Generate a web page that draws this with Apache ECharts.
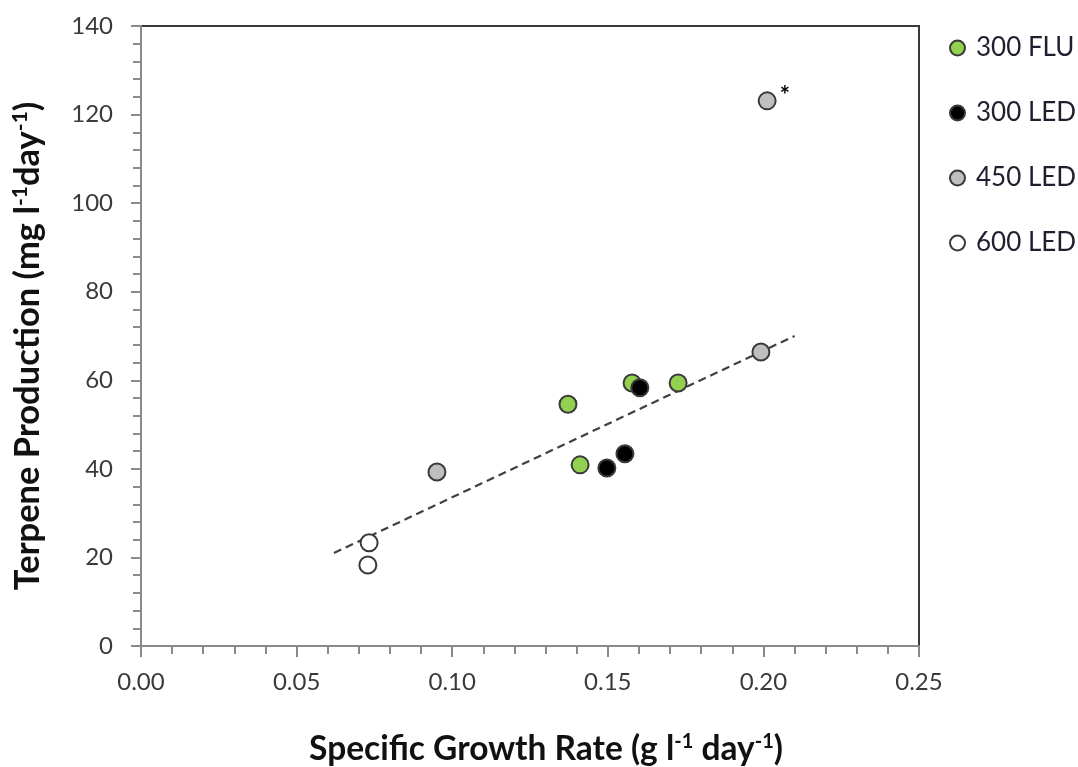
<!DOCTYPE html>
<html><head><meta charset="utf-8">
<script src="https://cdn.jsdelivr.net/npm/echarts@6/dist/echarts.min.js"></script>
<style>html,body{margin:0;padding:0;background:#fff}#c{width:1078px;height:767px}</style>
</head><body><div id="c"></div>
<script>
const seriesNames = ['300 FLU', '300 LED', '450 LED', '600 LED'];
const flu300X = [0.1372, 0.1411, 0.1578, 0.1726];
const flu300Y = [54.6, 40.9, 59.4, 59.4];
const led300X = [0.1603, 0.1497, 0.1555];
const led300Y = [58.3, 40.2, 43.4];
const led450X = [0.0951, 0.2012, 0.1992];
const led450Y = [39.3, 123.1, 66.4];
const led600X = [0.0733, 0.0729];
const led600Y = [23.3, 18.3];
const trendX = [0.062, 0.210];
const trendY = [21.0, 70.0];
const asteriskIndex450 = 1;
const xTicks = [0, 0.25, 0.05];
const yTicks = [0, 140, 20];

const colors = ['#92D050', '#000000', '#BFBFBF', '#FFFFFF'];
const pairs = (xs, ys) => xs.map((x, i) => [x, ys[i]]);
const allX = [flu300X, led300X, led450X, led600X];
const allY = [flu300Y, led300Y, led450Y, led600Y];

const chart = echarts.init(document.getElementById('c'));
const font = 'Lato, "Open Sans", sans-serif';
const scatter = seriesNames.map((n, k) => ({
  name: n, type: 'scatter', symbol: 'circle', symbolSize: 17,
  data: pairs(allX[k], allY[k]),
  itemStyle: { color: colors[k], borderColor: '#3a3a3a', borderWidth: 2, opacity: 1 },
  label: k === 2 ? {
    show: true, position: 'right', offset: [-2, -5],
    formatter: p => p.dataIndex === asteriskIndex450 ? '*' : '',
    fontSize: 24, color: '#000', fontFamily: font, fontWeight: 'bold'
  } : { show: false },
  z: 3
}));
const trend = {
  name: 'trend', type: 'line', data: pairs(trendX, trendY), symbol: 'none',
  lineStyle: { color: '#404040', width: 2.2, type: [8, 5] }, z: 2, silent: true
};
const mkRich = (fs, ss) => ({
  a: { fontSize: fs, fontWeight: 'bold', color: '#111', fontFamily: font },
  s: { fontSize: ss, fontWeight: 'bold', color: '#111', fontFamily: font, padding: [0, 0, 14, 0] }
});
const tickStyle = { color: '#8a8a8a', width: 2 };

chart.setOption({
  animation: false,
  grid: { left: 141, right: 159, top: 26, bottom: 121, show: true, borderColor: '#3a3a3a', borderWidth: 2,
          backgroundColor: 'transparent', containLabel: false, outerBoundsMode: 'none' },
  legend: {
    data: seriesNames, orient: 'vertical', left: 944, top: 30, itemGap: 39,
    icon: 'circle', itemWidth: 15, itemHeight: 15,
    textStyle: { fontSize: 26, color: '#1f1f2f', fontFamily: font, padding: [0, 0, 0, 6] }
  },
  xAxis: {
    type: 'value', min: xTicks[0], max: xTicks[1], interval: xTicks[2],
    axisLine: { show: true, lineStyle: { color: '#8a8a8a', width: 2 } },
    axisTick: { show: true, inside: false, length: 11, lineStyle: tickStyle },
    minorTick: { show: true, splitNumber: 5, length: 8, lineStyle: tickStyle },
    splitLine: { show: false },
    axisLabel: { fontSize: 24, color: '#3a3a3a', fontFamily: font, margin: 24, formatter: v => v.toFixed(2) },
    name: '{a|Specific Growth Rate (g l}{s|-1}{a| day}{s|-1}{a|)}',
    nameLocation: 'middle', nameGap: 86,
    nameTextStyle: { rich: mkRich(33.5, 20), padding: [0, 0, 0, 32] }
  },
  yAxis: {
    type: 'value', min: yTicks[0], max: yTicks[1], interval: yTicks[2],
    axisLine: { show: true, lineStyle: { color: '#8a8a8a', width: 2 } },
    axisTick: { show: true, inside: false, length: 10, lineStyle: tickStyle },
    minorTick: { show: true, splitNumber: 5, length: 8, lineStyle: tickStyle },
    splitLine: { show: false },
    axisLabel: { fontSize: 24, color: '#3a3a3a', fontFamily: font, margin: 28 },
    name: '{a|Terpene Production (mg l}{s|-1}{a|day}{s|-1}{a|)}',
    nameLocation: 'middle', nameGap: 96, nameRotate: 90,
    nameTextStyle: { rich: mkRich(34.5, 21), padding: [0, 20, 0, 0] }
  },
  series: [trend, ...scatter]
});
</script></body></html>
